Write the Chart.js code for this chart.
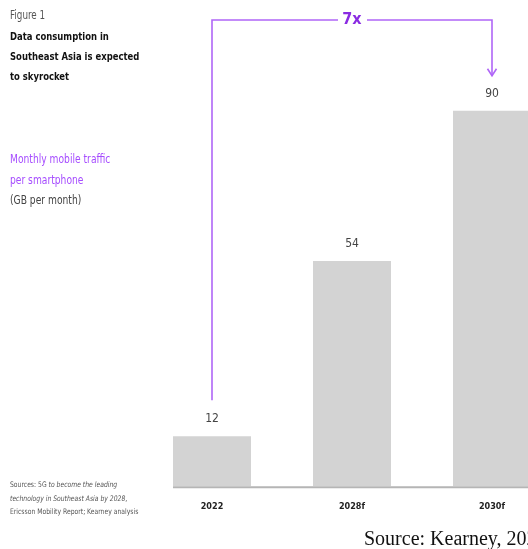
<!DOCTYPE html>
<html>
<head>
<meta charset="utf-8">
<script src="https://cdn.jsdelivr.net/npm/chart.js@4.4.1/dist/chart.umd.min.js"></script>
<style>
  html, body { margin:0; padding:0; background:#fff; width:528px; height:549px; overflow:hidden; position:relative; }
  .narrow { font-family:"DejaVu Sans Condensed","Liberation Sans Narrow",sans-serif; transform-origin:0 0; }
  #wrap { position:absolute; left:0; top:0; width:580px; height:549px; }
  .txt { position:absolute; left:10px; white-space:nowrap; }
  #fig { top:8px; font-size:11.5px; color:#555; transform:scaleX(0.85); }
  #title { top:27px; font-size:11px; font-weight:bold; color:#111; line-height:20px; transform:scaleX(0.855); }
  #unit { top:149px; font-size:11.5px; line-height:20.5px; color:#444; transform:scaleX(0.885); }
  #unit .p { color:#a64dff; }
  #src { top:478px; font-size:7.6px; line-height:13.5px; color:#555; transform:scaleX(0.89); }
  #cite { position:absolute; left:364px; top:527px; font-family:"Liberation Serif","Times New Roman",serif; font-size:20px; color:#111; white-space:nowrap; }
</style>
</head>
<body>
<div id="wrap"><canvas id="c" width="580" height="549"></canvas></div>
<div class="txt narrow" id="fig">Figure 1</div>
<div class="txt narrow" id="title">Data consumption in<br>Southeast Asia is expected<br>to skyrocket</div>
<div class="txt narrow" id="unit"><span class="p">Monthly mobile traffic<br>per smartphone</span><br>(GB per month)</div>
<div class="txt narrow" id="src">Sources: 5G <i>to become the leading<br>technology in Southeast Asia by 2028</i>,<br>Ericsson Mobility Report; Kearney analysis</div>
<div id="cite">Source: Kearney, 2023</div>
<script>
// ── data ──
const years = ['2022', '2028f', '2030f'];
const traffic = [12, 54, 90];
const growthLabel = '7x';

const FONT = '"DejaVu Sans Condensed","Liberation Sans Narrow",sans-serif';

// value labels, base line and the 7x bracket
const extras = {
  id: 'extras',
  afterDatasetsDraw(chart) {
    const ctx = chart.ctx;
    const bars = chart.getDatasetMeta(0).data;
    const area = chart.chartArea;
    ctx.save();

    // base line from first bar to the right edge
    const first = bars[0];
    ctx.strokeStyle = '#b5b5b5';
    ctx.lineWidth = 2;
    ctx.beginPath();
    ctx.moveTo(first.x - first.width / 2, area.bottom + 1);
    ctx.lineTo(area.right, area.bottom + 1);
    ctx.stroke();

    // value labels
    ctx.fillStyle = '#444';
    ctx.font = '12px ' + FONT;
    ctx.textAlign = 'center';
    ctx.textBaseline = 'middle';
    bars.forEach((b, i) => ctx.fillText(traffic[i], b.x, b.y - 17));

    // bracket
    const a = bars[0], z = bars[bars.length - 1];
    const topY = 20, mid = (a.x + z.x) / 2;
    ctx.strokeStyle = '#b066f7';
    ctx.lineWidth = 1.6;
    ctx.beginPath();
    ctx.moveTo(a.x, a.y - 36);
    ctx.lineTo(a.x, topY);
    ctx.lineTo(mid - 14, topY);
    ctx.moveTo(mid + 15, topY);
    ctx.lineTo(z.x, topY);
    ctx.lineTo(z.x, z.y - 35);
    ctx.stroke();
    ctx.beginPath();
    ctx.moveTo(z.x - 4.5, z.y - 42);
    ctx.lineTo(z.x, z.y - 35);
    ctx.lineTo(z.x + 4.5, z.y - 42);
    ctx.stroke();

    ctx.fillStyle = '#8a2be2';
    ctx.font = 'bold 16px ' + FONT;
    ctx.fillText(growthLabel, mid, topY);
    ctx.restore();
  }
};

new Chart(document.getElementById('c'), {
  type: 'bar',
  data: {
    labels: years,
    datasets: [{
      data: traffic,
      backgroundColor: '#d3d3d3',
      borderWidth: 0,
      categoryPercentage: 1,
      barPercentage: 0.557
    }]
  },
  options: {
    responsive: false,
    animation: false,
    layout: { padding: { left: 142, right: 18, top: 69, bottom: 22 } },
    plugins: { legend: { display: false }, tooltip: { enabled: false } },
    scales: {
      y: { display: false, min: 0, max: 100 },
      x: {
        grid: { display: false, drawTicks: false },
        border: { display: false },
        ticks: { color: '#222', padding: 15, font: { family: FONT, size: 9, weight: 'bold' } }
      }
    }
  },
  plugins: [extras]
});
</script>
</body>
</html>
